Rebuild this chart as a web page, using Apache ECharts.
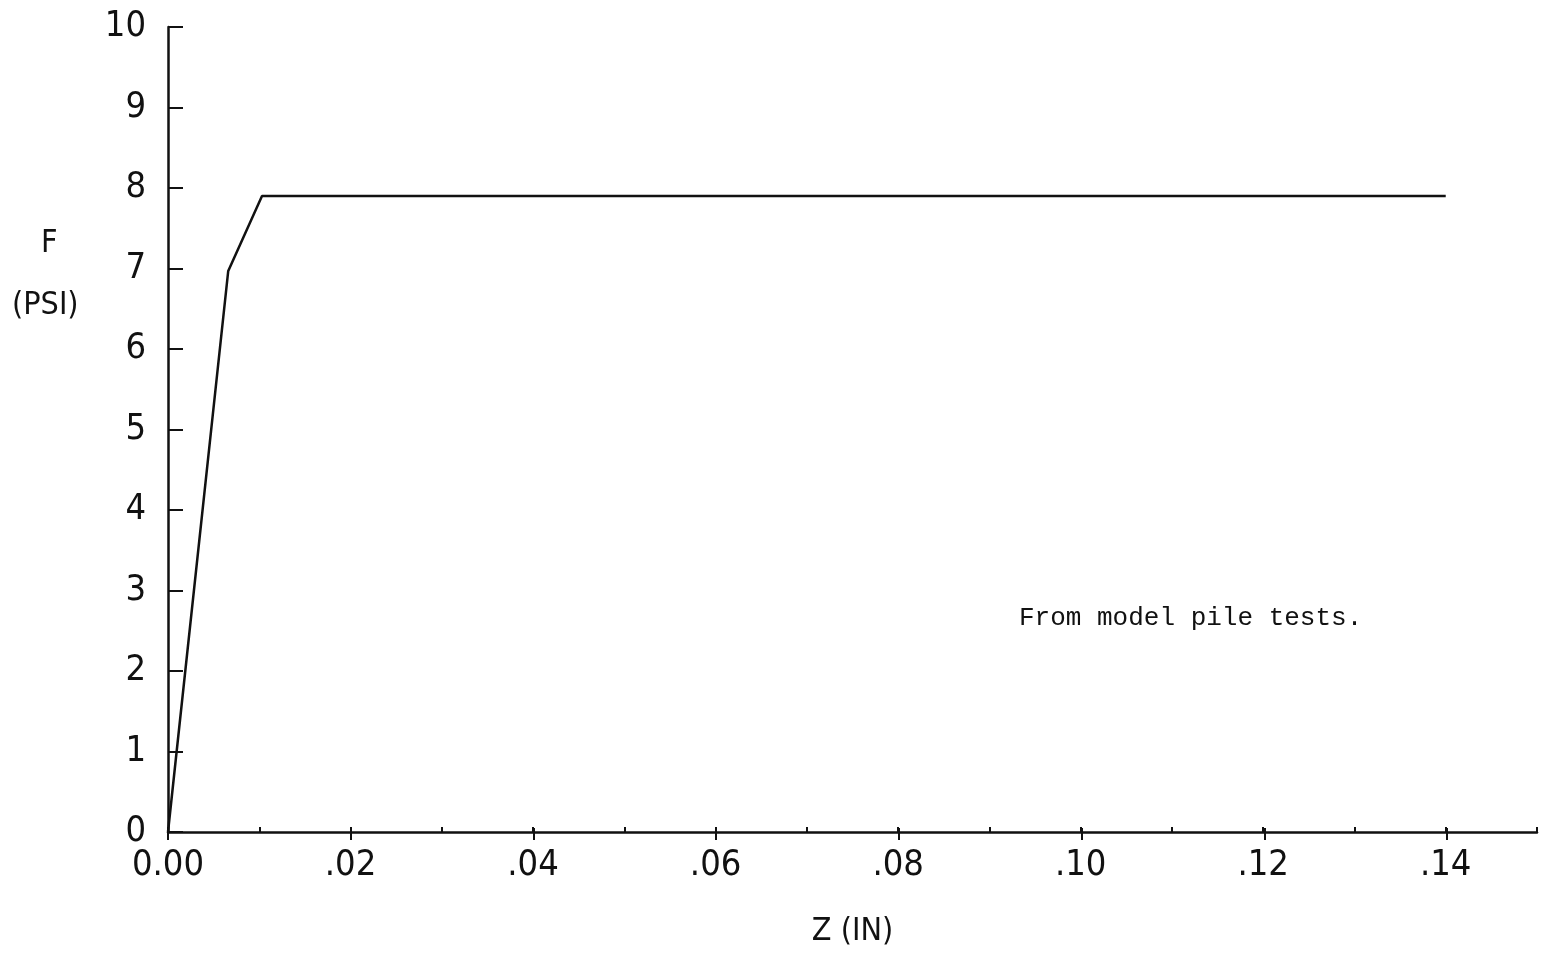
<!DOCTYPE html>
<html>
<head>
<meta charset="utf-8">
<script src="https://cdn.jsdelivr.net/npm/echarts@6/dist/echarts.min.js"></script>
<style>
  html, body { margin: 0; padding: 0; background: #fff; }
  #chart { width: 1547px; height: 953px; }
</style>
</head>
<body>
<div id="chart"></div>
<script>
// F-Z curve
const zValues = [0, 0.0066, 0.0103, 0.14];
const fValues = [0, 6.97, 7.9, 7.9];

const xName = 'Z (IN)';
const yNameTop = 'F';
const yNameBottom = '(PSI)';
const noteText = 'From model pile tests.';

const labelFont = '"Liberation Sans Narrow", "DejaVu Sans Condensed", "Liberation Sans", sans-serif';
const ink = '#111';

function xLabel(v) {
  const hundredths = Math.round(v * 100);
  if (hundredths === 0) return '0.00';
  if (hundredths % 2 !== 0 || hundredths > 14) return '';
  return '.' + String(hundredths).padStart(2, '0');
}

const chart = echarts.init(document.getElementById('chart'));

const option = {
  backgroundColor: '#fff',
  animation: false,
  grid: [
    { left: 168, right: 10, top: 27, bottom: 113 },
    // second grid only carries the longer ticks at even hundredths (0 .. .14)
    { left: 168, right: 100, top: 27, bottom: 113 }
  ],
  xAxis: [
    {
      type: 'value',
      gridIndex: 0,
      min: 0,
      max: 0.15,
      interval: 0.01,
      name: xName,
      nameLocation: 'middle',
      nameGap: 84,
      nameTextStyle: { fontFamily: labelFont, fontSize: 32, color: ink },
      axisLine: { lineStyle: { color: ink, width: 2.5 } },
      axisTick: { inside: true, length: 5, lineStyle: { color: ink, width: 2 } },
      axisLabel: {
        formatter: xLabel,
        margin: 16,
        fontFamily: labelFont,
        fontSize: 36,
        color: ink
      },
      splitLine: { show: false }
    },
    {
      type: 'value',
      gridIndex: 1,
      min: 0,
      max: 0.14,
      interval: 0.02,
      axisLine: { show: false },
      axisTick: { inside: true, length: 12, lineStyle: { color: ink, width: 2 } },
      axisLabel: { show: false },
      splitLine: { show: false }
    }
  ],
  yAxis: [
    {
      type: 'value',
      gridIndex: 0,
      min: 0,
      max: 10,
      interval: 1,
      axisLine: { show: true, lineStyle: { color: ink, width: 2.5 } },
      axisTick: { show: true, inside: true, length: 15, lineStyle: { color: ink, width: 2 } },
      axisLabel: {
        margin: 22,
        fontFamily: labelFont,
        fontSize: 36,
        color: ink
      },
      splitLine: { show: false }
    },
    {
      type: 'value',
      gridIndex: 1,
      min: 0,
      max: 10,
      show: false
    }
  ],
  graphic: [
    {
      type: 'text',
      left: 41,
      top: 228,
      style: { text: yNameTop, font: '32px ' + labelFont, fill: ink }
    },
    {
      type: 'text',
      left: 12,
      top: 290,
      style: { text: yNameBottom, font: '32px ' + labelFont, fill: ink }
    },
    {
      type: 'text',
      left: 1019,
      top: 605,
      style: { text: noteText, font: '26px "Liberation Mono", "DejaVu Sans Mono", monospace', fill: ink }
    }
  ],
  series: [
    {
      type: 'line',
      xAxisIndex: 0,
      yAxisIndex: 0,
      data: zValues.map((z, i) => [z, fValues[i]]),
      showSymbol: false,
      lineStyle: { color: ink, width: 2.5 }
    }
  ]
};

chart.setOption(option);
</script>
</body>
</html>
